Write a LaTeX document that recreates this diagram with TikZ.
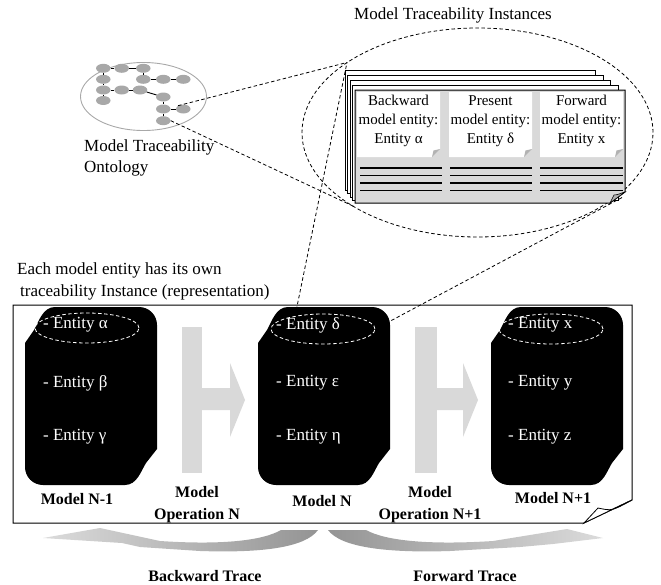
\documentclass[tikz,border=0pt]{standalone}
\usepackage{fontspec}
\setmainfont{Liberation Serif}
\usetikzlibrary{shapes.geometric}
\definecolor{lg}{gray}{0.85}
\definecolor{ontg}{gray}{0.66}
\newcommand\drawmodel[2]{%
  \fill[black, shift={(#1,#2)}] (0,36) -- (9,23) .. controls (14,14) and (18,0) .. (30,0) -- (114,0) .. controls (124,0) and (132,8) .. (132,18) -- (132,142) -- (121,156) .. controls (116,164) and (112,178) .. (100,178) -- (18,178) .. controls (8,178) and (0,170) .. (0,160) -- cycle;}
\newcommand\drawnote[2]{%
  \begin{scope}[shift={(#1,#2)}]
  \fill[white] (0,0) -- (83,0) -- (83,57) -- (75,65) -- (0,65) -- cycle;
  \fill[black!30] (83,57) -- (75,65) -- (76.5,58.5) -- cycle;
  \end{scope}}
\begin{document}
\begin{tikzpicture}[x=1pt,y=-1pt,
  dl/.style={dash pattern=on 3.5pt off 2.5pt, line width=0.8pt},
  ont/.style={ellipse, fill=ontg, minimum width=14.5pt, minimum height=9pt, inner sep=0pt},
  txt/.style={font=\fontsize{17}{21}\selectfont, inner sep=0pt},
  ntxt/.style={font=\fontsize{15}{19}\selectfont, align=center, inner sep=0pt},
  btxt/.style={font=\fontsize{16}{22}\selectfont\bfseries, align=center, inner sep=0pt},
  etxt/.style={font=\fontsize{17}{20}\selectfont, text=white, anchor=west, inner sep=0pt},
  card/.style={fill=white, draw=black, line width=0.9pt},
  entell/.style={draw=white, dl, ellipse, minimum width=104pt, minimum height=30pt, inner sep=0pt},
  rule/.style={line width=1.6pt}
]
\useasboundingbox (0,0) rectangle (661,584);

% ---------- ontology ----------
\node[draw=ontg, line width=0.9pt, ellipse, minimum width=126pt, minimum height=68pt, inner sep=0pt] (ontE) at (143.5,96.5) {};
\foreach \n/\x/\y in {1/103.3/68.3, 2/121.7/68.3, 3/143.3/68.3, 4/103.3/79.3, 5/143.3/79.3, 6/163.3/79.3, 7/183.3/79.3, 8/103.3/90, 9/121.7/90, 10/140/90, 11/103.3/100.5, 12/163.3/97, 13/163.3/109, 14/183.3/109, 15/163.3/120.7}
  \node[ont] (n\n) at (\x,\y) {};
\foreach \a/\b in {1/2, 2/3, 1/4, 4/8, 8/11, 3/5, 5/6, 6/7, 8/9, 9/10, 10/12, 12/13, 13/14, 13/15}
  \draw[line width=0.9pt] (n\a) -- (n\b);
\node[txt, align=left, anchor=west] (ontT) at (84,158) {Model Traceability\\Ontology};

% ---------- instances ----------
\node[txt] (title) at (453,15) {Model Traceability Instances};
\node[draw, dl, ellipse, minimum width=351pt, minimum height=209pt, inner sep=0pt] (inst) at (477.5,132.5) {};

\draw[card] (345,70) rectangle (595,190);
\draw[card] (347.5,75) rectangle (603,193);
\draw[card] (350,80) rectangle (610,197);
\draw[card] (352.5,85) rectangle (618,200);
\filldraw[fill=lg, draw=black, line width=1pt] (355,90) -- (625,90) -- (625,192) -- (610,203) -- (355,203) -- cycle;
\filldraw[fill=black!30, draw=black, line width=0.6pt] (610,203) -- (614,195) .. controls (618,195) and (621,193) .. (625,192) -- cycle;
\drawnote{357}{92}
\drawnote{449}{92}
\drawnote{540}{92}
\node[ntxt] (c1) at (398.5,121) {Backward\\model entity:\\Entity α};
\node[ntxt] (c2) at (490.5,121) {Present\\model entity:\\Entity δ};
\node[ntxt] (c3) at (581.5,121) {Forward\\model entity:\\Entity x};
\foreach \y in {168,175.5,183,190.5} {
  \draw[rule] (360,\y) -- (442,\y);
  \draw[rule] (450,\y) -- (532,\y);
  \draw[rule] (540,\y) -- (623,\y);
}

% ---------- caption ----------
\node[txt, anchor=west] (cap1) at (17,270) {Each model entity has its own};
\node[txt, anchor=west] (cap2) at (20,292) {traceability Instance (representation)};

% ---------- main sheet ----------
\filldraw[fill=white, draw=black, line width=1pt] (13,305) -- (632,305) -- (632,500) -- (584,523) -- (13,523) -- cycle;
\filldraw[fill=white, draw=black, line width=0.8pt] (584,523) -- (598,508) .. controls (612,511) .. (632,500) -- cycle;

% operation arrows
\fill[lg] (182,327) rectangle (202,473);
\fill[lg] (202,388) -- (230,388) -- (230,363) -- (245,400) -- (230,437) -- (230,410) -- (202,410) -- cycle;
\fill[lg] (415,327) rectangle (437,473);
\fill[lg] (437,388) -- (463,388) -- (463,363) -- (478,400) -- (463,437) -- (463,410) -- (437,410) -- cycle;

% models
\drawmodel{25}{307}
\drawmodel{258}{307}
\drawmodel{491}{307}

\node[entell] (ellA) at (87,328) {};
\node[entell] (ellD) at (323,329) {};
\node[entell] (ellX) at (551,329) {};

\node[etxt] (a1) at (43,325) {- Entity α};
\node[etxt] (a2) at (43,383) {- Entity β};
\node[etxt] (a3) at (43,437) {- Entity γ};
\node[etxt] (b1) at (276,325) {- Entity δ};
\node[etxt] (b2) at (276,383) {- Entity ε};
\node[etxt] (b3) at (276,437) {- Entity η};
\node[etxt] (x1) at (508,325) {- Entity x};
\node[etxt] (x2) at (508,383) {- Entity y};
\node[etxt] (x3) at (508,437) {- Entity z};

% labels
\node[btxt] (l1) at (77,499) {Model N-1};
\node[btxt] (l2) at (197,505) {Model\\Operation N};
\node[btxt] (l3) at (322,501) {Model N};
\node[btxt] (l4) at (430,505) {Model\\Operation N+1};
\node[btxt] (l5) at (553,498) {Model N+1};

% ---------- dashed connectors ----------
\coordinate (e1) at (347,62.5);
\coordinate (e2) at (355,207);
\coordinate (e4) at (623,197);
\draw[dl] (n14.north west) -- (e1);
\draw[dl] (n15.east) -- (e2);
\draw[dl] (ellD.155) -- (e1);
\draw[dl] (ellD.east) -- (e4);

% ---------- trace arrows ----------
\shade[left color=black!14, right color=black!42] (318,530) .. controls (305,548) and (260,553) .. (200,551) -- (140,547) -- (122,543) -- (43,538) -- (100,528) -- (160,541) .. controls (220,545) and (262,541) .. (281,530) -- cycle;
\shade[left color=black!42, right color=black!14] (328,530) .. controls (341,548) and (390,553) .. (450,551) -- (520,547) -- (553,544) -- (603,538) -- (567,529) -- (493,541) .. controls (430,545) and (386,541) .. (366,530) -- cycle;
\node[btxt, anchor=base] (bt) at (205,581) {Backward Trace};
\node[btxt, anchor=base] (ft) at (465,581) {Forward Trace};
\end{tikzpicture}
\end{document}
